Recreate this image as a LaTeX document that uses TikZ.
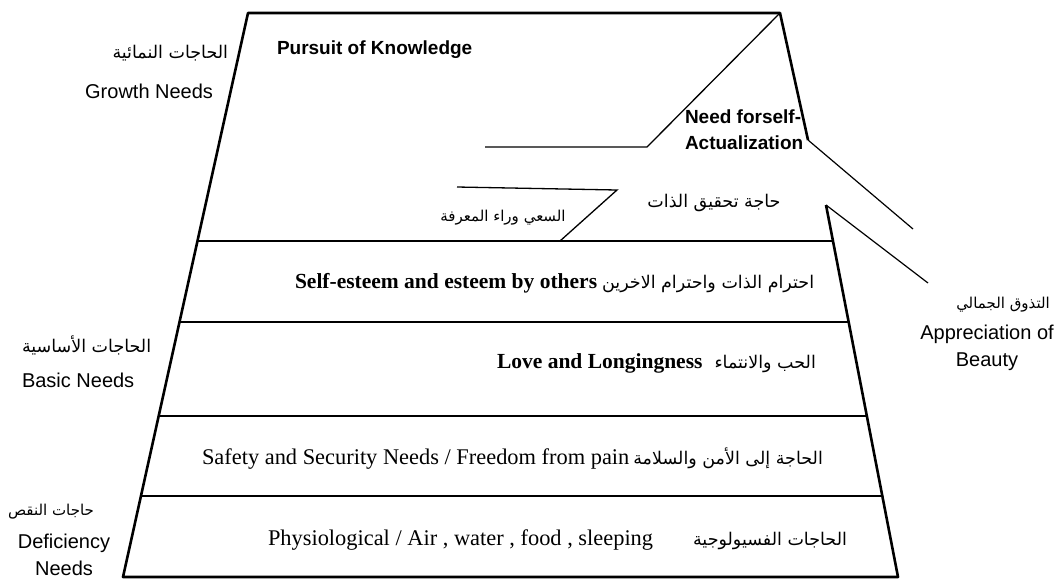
\documentclass[tikz,border=0pt]{standalone}
\usepackage{fontspec}
\setmainfont{Liberation Serif}
\newfontfamily\sidefont{Liberation Sans}
\newfontfamily\arabicfont[Script=Arabic]{DejaVu Sans}
\TeXXeTstate=1
\usetikzlibrary{positioning}

\begin{document}
\begin{tikzpicture}[x=1pt, y=-1pt,
  every node/.style={inner sep=0pt, outer sep=0pt},
  band/.style={font=\fontsize{22.4}{26}\selectfont},
  bandb/.style={font=\bfseries\fontsize{21.5}{26}\selectfont},
  side/.style={font=\sidefont\fontsize{20}{27}\selectfont, align=center},
  top/.style={font=\sidefont\bfseries\fontsize{19}{26}\selectfont, align=left},
  arab/.style={font=\arabicfont\fontsize{17.5}{21}\selectfont},
  arabs/.style={font=\arabicfont\fontsize{15}{20}\selectfont}]
\useasboundingbox (0,0) rectangle (1062,582);

\node[top, anchor=west] (pk) at (277,50) {Pursuit of Knowledge};
\node[top, anchor=west] (sa) at (685,130) {Need forself-\\Actualization};
\node[arab] (saA) at (714,203) {\beginR حاجة تحقيق الذات\endR};
\node[arabs] (pkA) at (503,218) {\beginR السعي وراء المعرفة\endR};

\node[bandb, anchor=west] (se) at (295,283) {Self-esteem and esteem by others};
\node[arab, base right=5pt of se] (seA) {\beginR احترام الذات واحترام الاخرين\endR};
\node[bandb, anchor=west] (ll) at (497,363) {Love and Longingness};
\node[arab, base right=12pt of ll] (llA) {\beginR الحب والانتماء\endR};
\node[band, anchor=west] (sf) at (202,459) {Safety and Security Needs / Freedom from pain};
\node[arab, base right=4pt of sf] (sfA) {\beginR الحاجة إلى الأمن والسلامة\endR};
\node[band, anchor=west] (ph) at (268,540) {Physiological / Air , water , food , sleeping};
\node[arab, base right=40pt of ph] (phA) {\beginR الحاجات الفسيولوجية\endR};

\node[arab, anchor=east] (grA) at (228,53) {\beginR الحاجات النمائية\endR};
\node[side, anchor=east] (gr) at (213,91) {Growth Needs};
\node[arab, anchor=west] (baA) at (22,345) {\beginR الحاجات الأساسية\endR};
\node[side, anchor=west] (ba) at (22,380) {Basic Needs};
\node[arabs] (deA) at (51,512) {\beginR حاجات النقص\endR};
\node[side] (de) at (64,555) {Deficiency\\Needs};
\node[arabs] (apA) at (1003,305) {\beginR التذوق الجمالي\endR};
\node[side] (ap) at (987,348) {Appreciation of\\Beauty};

\coordinate (ra) at (808,140);
\coordinate (rb) at (826,205);
\coordinate (ra2) at (913,229);
\coordinate (rb2) at (928,283);

\draw[line width=2.6pt, line join=round] (rb) -- (898,577) -- (123,577) -- (248,13) -- (780,13) -- (ra);
\draw[line width=2.2pt] (197.5,241) -- (833,241);
\draw[line width=2.2pt] (179.5,322) -- (848.5,322);
\draw[line width=2.2pt] (158.5,416) -- (866.5,416);
\draw[line width=2.2pt] (140.7,496) -- (882,496);
\draw[line width=1.3pt] (485,147) -- (647,147) -- (780,13);
\draw[line width=1.3pt] (457,187) -- (617,190) -- (560,241);
\draw[line width=1.2pt] (ra) -- (ra2);
\draw[line width=1.2pt] (rb) -- (rb2);
\end{tikzpicture}
\end{document}
